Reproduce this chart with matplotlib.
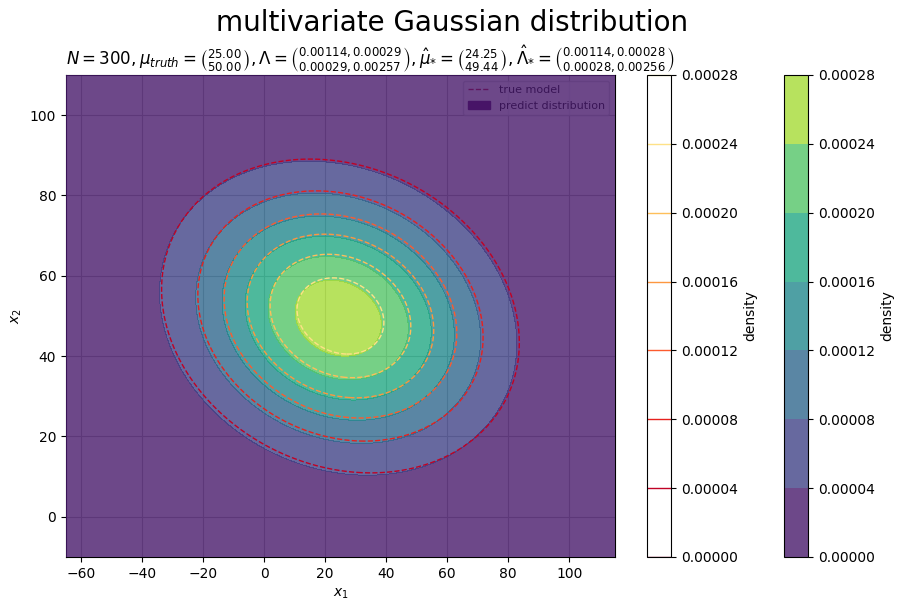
import numpy as np
import matplotlib
matplotlib.use("Agg")
import matplotlib.pyplot as plt
from matplotlib.lines import Line2D
from matplotlib.patches import Patch
from matplotlib.ticker import FormatStrFormatter
from matplotlib.colors import Normalize

N = 300
mu_truth = [25.0, 50.0]
Lambda_truth = [[0.00114, 0.00029], [0.00029, 0.00257]]
mu_hat = [24.25, 49.44]
Lambda_hat = [[0.00114, 0.00028], [0.00028, 0.00256]]
levels = [0.0, 0.00004, 0.00008, 0.00012, 0.00016, 0.00020, 0.00024, 0.00028]
x_range = [-65, 115]
y_range = [-10, 110]


def density(X, Y, mu, Lam):
    Lam = np.array(Lam)
    dx = X - mu[0]
    dy = Y - mu[1]
    q = Lam[0, 0] * dx * dx + 2 * Lam[0, 1] * dx * dy + Lam[1, 1] * dy * dy
    return np.sqrt(np.linalg.det(Lam)) / (2 * np.pi) * np.exp(-0.5 * q)


xs = np.linspace(x_range[0], x_range[1], 400)
ys = np.linspace(y_range[0], y_range[1], 400)
X, Y = np.meshgrid(xs, ys)
Z_true = density(X, Y, mu_truth, Lambda_truth)
Z_pred = density(X, Y, mu_hat, Lambda_hat)

fig = plt.figure(figsize=(9.05, 6.11), dpi=100)
ax = fig.add_axes([0.0729, 0.0884, 0.6066, 0.7889])
cax1 = fig.add_axes([0.7149, 0.0884, 0.0265, 0.7889])
cax2 = fig.add_axes([0.8663, 0.0884, 0.0265, 0.7889])

ax.grid(True)
handles = [Line2D([0], [0], color=plt.get_cmap('YlOrRd_r')(0.13), linestyle='--', lw=1),
           Patch(color=plt.get_cmap('viridis')(0.0))]
leg = ax.legend(handles, ['true model', 'predict distribution'], loc='upper right', fontsize=8)
leg.set_zorder(5)

cf = ax.contourf(X, Y, Z_pred, levels=levels, cmap='viridis', alpha=0.8, zorder=6,
                 norm=Normalize(vmin=0.0, vmax=0.0003))
cl = ax.contour(X, Y, Z_true, levels=levels, cmap='YlOrRd_r', linestyles='dashed',
                linewidths=1.0, zorder=7, norm=Normalize(vmin=0.0, vmax=0.0003))

ax.set_xlim(x_range)
ax.set_ylim(y_range)
ax.set_xlabel('$x_1$')
ax.set_ylabel('$x_2$')

title = (r"$N=300, \mu_{truth}=\binom{25.00}{50.00}, "
         r"\Lambda=\binom{0.00114, 0.00029}{0.00029, 0.00257}, "
         r"\hat{\mu}_{*}=\binom{24.25}{49.44}, "
         r"\hat{\Lambda}_{*}=\binom{0.00114, 0.00028}{0.00028, 0.00256}$")
ax.set_title(title, loc='left', fontsize=12)
fig.suptitle('multivariate Gaussian distribution', fontsize=20, y=0.985)

cb1 = fig.colorbar(cl, cax=cax1, format=FormatStrFormatter('%.5f'))
cb1.set_label('density')
cb2 = fig.colorbar(cf, cax=cax2, format=FormatStrFormatter('%.5f'))
cb2.set_label('density')

fig.savefig('out.png', dpi=100)
